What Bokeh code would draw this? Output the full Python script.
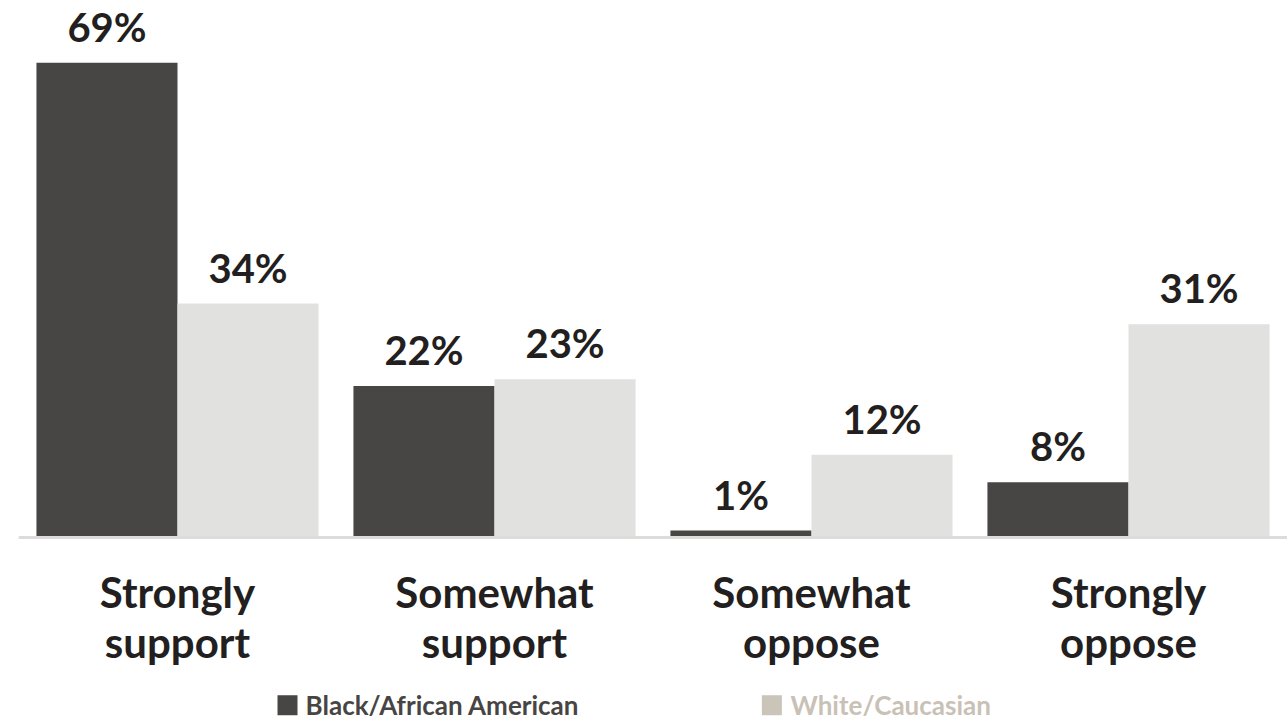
from bokeh.plotting import figure
from bokeh.models import Range1d, Span, ColumnDataSource
from bokeh.core.properties import value
from bokeh.transform import dodge
from bokeh.embed import file_html
from bokeh.resources import INLINE

categories = ["Strongly\nsupport", "Somewhat\nsupport", "Somewhat\noppose", "Strongly\noppose"]
black_vals = [69, 22, 1, 8]
white_vals = [34, 23, 12, 31]
series_names = ["Black/African American", "White/Caucasian"]

FONT = "Lato"
DARK = "#474644"
LIGHT = "#e1e1e0"
TEXT = "#231f20"

idx = list(range(len(categories)))
src = ColumnDataSource(dict(
    x=idx, cat=categories, b=black_vals, w=white_vals,
    bl=[f"{v}%" for v in black_vals], wl=[f"{v}%" for v in white_vals],
))

# frame spans x 18..1287, y 0..724 ; baseline at y=537, 6.88 px per %
p = figure(width=1287, height=724, output_backend="svg", toolbar_location=None,
           x_range=Range1d(-0.5016, 3.5016), y_range=Range1d(-27.2, 78.05),
           min_border_left=18, min_border_right=0, min_border_top=0, min_border_bottom=0)
p.axis.visible = False
p.grid.visible = False
p.outline_line_color = None
p.background_fill_color = "white"

bw = 0.445
p.vbar(x=dodge("x", -bw / 2, range=p.x_range), top="b", width=bw, source=src,
       fill_color=DARK, line_color=None)
p.vbar(x=dodge("x", bw / 2, range=p.x_range), top="w", width=bw, source=src,
       fill_color=LIGHT, line_color=None)

p.add_layout(Span(location=0, dimension="width", line_color="#dcdcdc", line_width=3))

common = dict(text_font=value(FONT), text_font_style="bold", text_color=TEXT,
              text_align="center", text_baseline="middle", text_font_size="40px")
p.text(x=dodge("x", -bw / 2, range=p.x_range), y="b", text="bl", source=src,
       y_offset=-36, **common)
p.text(x=dodge("x", bw / 2, range=p.x_range), y="w", text="wl", source=src,
       y_offset=-36, **common)

# category labels
p.text(x="x", y=0, text="cat", source=src, y_offset=30,
       text_font=value(FONT), text_font_style="bold", text_color=TEXT,
       text_align="center", text_baseline="top", text_font_size="42px",
       text_line_height=1.0)

# legend
leg_y = -24.4
p.scatter(x=[0.347], y=[leg_y], marker="square", size=20, fill_color=DARK, line_color=None)
p.scatter(x=[1.875], y=[leg_y], marker="square", size=20, fill_color="#cbc4b9", line_color=None)
p.text(x=[0.404], y=[leg_y], text=[series_names[0]], text_font=value(FONT),
       text_font_style="bold", text_color="#474543", text_baseline="middle",
       text_font_size="26px")
p.text(x=[1.934], y=[leg_y], text=[series_names[1]], text_font=value(FONT),
       text_font_style="bold", text_color="#c9c1b6", text_baseline="middle",
       text_font_size="26px")

open("out.html", "w").write(file_html(p, INLINE))
